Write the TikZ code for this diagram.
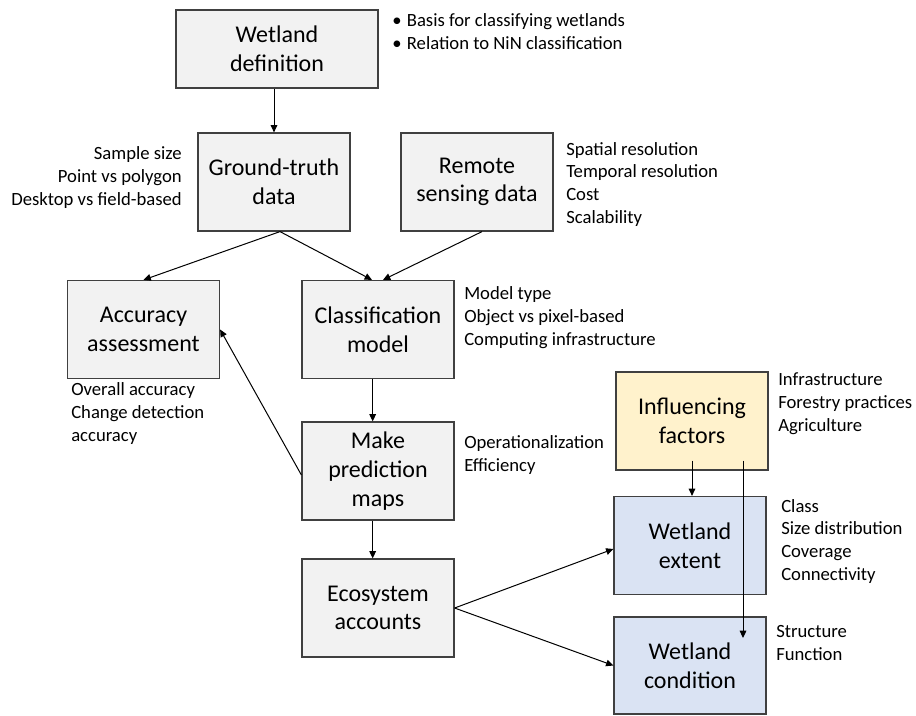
\documentclass[tikz,border=0pt]{standalone}
\usepackage{fontspec}
\setmainfont{Carlito}
\usetikzlibrary{arrows.meta}

\definecolor{boxgray}{HTML}{F2F2F2}
\definecolor{boxyellow}{HTML}{FFF2CC}
\definecolor{boxblue}{HTML}{DAE3F3}

\tikzset{
  box/.style={draw=black!75, line width=0.9pt, fill=boxgray, minimum width=114pt,
    minimum height=73.5pt, align=center, inner sep=2pt,
    font=\fontsize{18}{21.5}\selectfont},
  note/.style={align=left, anchor=base west, inner sep=0pt,
    font=\fontsize{14}{16.9}\selectfont},
  link/.style={-{Triangle[length=5.5pt,width=5pt]}, line width=0.75pt}
}

\begin{document}
\begin{tikzpicture}[x=0.75pt,y=-0.75pt]
\useasboundingbox (0,0) rectangle (916,715);

% boxes
\node[box, minimum width=151.5pt, minimum height=58.5pt] (def) at (277,49) {Wetland\\definition};
\node[box] (gt) at (274,182) {Ground-truth\\data};
\node[box] (rs) at (477,182) {Remote\\sensing data};
\node[box] (acc) at (143.5,329.5) {Accuracy\\assessment};
\node[box] (cls) at (378,329.5) {Classification\\model};
\node[box] (mpm) at (378,471) {Make\\prediction\\maps};
\node[box] (eco) at (378,608) {Ecosystem\\accounts};
\node[box, fill=boxyellow] (infl) at (692,421) {Influencing\\factors};
\node[box, fill=boxblue] (ext) at (690,545.5) {Wetland\\extent};
\node[box, fill=boxblue, minimum height=72.75pt] (cond) at (690,665.5) {Wetland\\condition};

% notes beside the boxes (placed at the baseline of their last line)
\node[note] (defnote) at (392,49) {\textbullet\hspace{4pt}Basis for classifying wetlands\\\textbullet\hspace{4pt}Relation to NiN classification};
\node[note, anchor=base east, align=right] (gtnote) at (182,205) {Sample size\\Point vs polygon\\Desktop vs field-based};
\node[note] (rsnote) at (566,223) {Spatial resolution\\Temporal resolution\\Cost\\Scalability};
\node[note] (clsnote) at (464,345) {Model type\\Object vs pixel-based\\Computing infrastructure};
\node[note] (accnote) at (71,441) {Overall accuracy\\Change detection\\accuracy};
\node[note] (mpmnote) at (464,471) {Operationalization\\Efficiency};
\node[note] (inflnote) at (778,431) {Infrastructure\\Forestry practices\\Agriculture};
\node[note] (extnote) at (781,580) {Class\\Size distribution\\Coverage\\Connectivity};
\node[note] (condnote) at (776,660) {Structure\\Function};

% arrows
\draw[link] (def.south -| gt.north) -- (gt.north);
\draw[link] ([xshift=4.5pt]gt.south) -- (acc.north);
\draw[link] ([xshift=4.5pt]gt.south) -- ([xshift=-4.5pt]cls.north);
\draw[link] ([xshift=3.75pt]rs.south) -- ([xshift=3.75pt]cls.north);
\draw[link] ([xshift=-4pt]cls.south) -- ([xshift=-4pt]mpm.north);
\draw[link] ([yshift=-3pt]mpm.west) -- (acc.east);
\draw[link] ([xshift=-4pt]mpm.south) -- ([xshift=-4pt]eco.north);
\draw[link] (eco.east) -- ([yshift=-2.6pt]ext.west);
\draw[link] (eco.east) -- (cond.west);

% influencing factors
\coordinate (inflfoot) at ([yshift=7.5pt]infl.south);
\coordinate (condin) at (743,638);
\draw[link] (inflfoot) -- (inflfoot |- ext.north);
\draw[link] (inflfoot -| condin) -- (condin);

\end{tikzpicture}
\end{document}
